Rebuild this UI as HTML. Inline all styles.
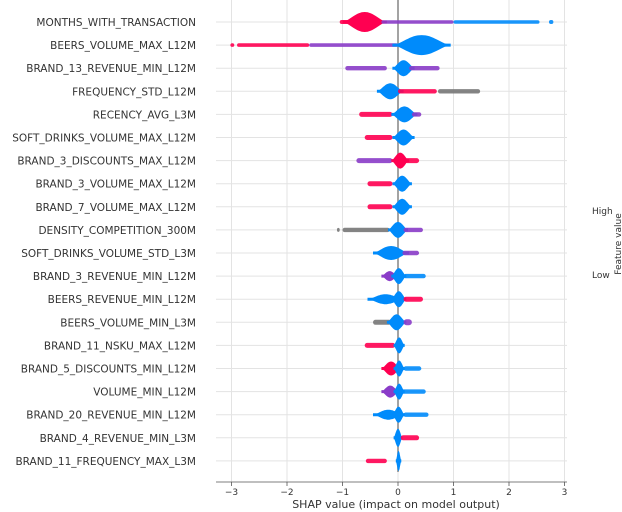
<!DOCTYPE html>
<html><head><meta charset="utf-8"><style>
html,body{margin:0;padding:0;background:#fff;width:622px;height:512px;overflow:hidden}
svg{display:block;font-family:"DejaVu Sans","Liberation Sans",sans-serif}
</style></head><body>
<svg id="chart" width="622" height="512" viewBox="0 0 622 512">
<g id="grid"></g>
<g id="labels"></g>
<g id="marks"></g>
<g id="axis"></g>
<text x="396" y="508" font-size="11" fill="#333" text-anchor="middle">SHAP value (impact on model output)</text>
<text x="592" y="214" font-size="9" fill="#333">High</text>
<text x="592" y="278" font-size="9" fill="#333">Low</text>
<text x="0" y="0" font-size="9" fill="#333" text-anchor="middle" transform="translate(621,244) rotate(-90)">Feature value</text>
</svg>
<script>
const features = ["MONTHS_WITH_TRANSACTION","BEERS_VOLUME_MAX_L12M","BRAND_13_REVENUE_MIN_L12M","FREQUENCY_STD_L12M","RECENCY_AVG_L3M","SOFT_DRINKS_VOLUME_MAX_L12M","BRAND_3_DISCOUNTS_MAX_L12M","BRAND_3_VOLUME_MAX_L12M","BRAND_7_VOLUME_MAX_L12M","DENSITY_COMPETITION_300M","SOFT_DRINKS_VOLUME_STD_L3M","BRAND_3_REVENUE_MIN_L12M","BEERS_REVENUE_MIN_L12M","BEERS_VOLUME_MIN_L3M","BRAND_11_NSKU_MAX_L12M","BRAND_5_DISCOUNTS_MIN_L12M","VOLUME_MIN_L12M","BRAND_20_REVENUE_MIN_L12M","BRAND_4_REVENUE_MIN_L3M","BRAND_11_FREQUENCY_MAX_L3M"];
const xTicks = [-3,-2,-1,0,1,2,3];
// [x0, x1, halfHeight, colorKey, shape] shape: b=blob, l=line
const segments = [
 [[-1.05,-0.85,2,"r","l"],[-1.0,-0.2,10,"r","b"],[-0.3,1.0,1.8,"p","l"],[1.0,2.55,1.8,"u","l"],[2.72,2.8,2,"u","l"]],
 [[-3.02,-2.95,1.8,"r","l"],[-2.9,-1.6,1.8,"r","l"],[-1.6,0.0,1.8,"p","l"],[-0.1,0.95,10,"u","b"]],
 [[-0.95,-0.2,2.2,"p","l"],[-0.1,0.3,8,"u","b"],[0.2,0.75,2.2,"p","l"]],
 [[-0.38,0.1,8,"u","b"],[0.0,0.7,2.2,"r","l"],[0.72,1.48,2.2,"g","l"]],
 [[-0.7,-0.1,2.5,"r","l"],[-0.12,0.35,8,"u","b"],[0.25,0.42,2.2,"p","l"]],
 [[-0.6,-0.1,2.5,"r","l"],[-0.1,0.3,8,"u","b"]],
 [[-0.75,-0.1,2.5,"p","l"],[-0.12,0.2,8,"r","b"],[0.12,0.38,2.5,"r","l"]],
 [[-0.55,-0.1,2.5,"r","l"],[-0.1,0.25,8,"u","b"]],
 [[-0.55,-0.1,2.5,"r","l"],[-0.1,0.25,8,"u","b"]],
 [[-1.1,-1.05,2,"g","l"],[-1.0,-0.15,2.2,"g","l"],[-0.18,0.18,8,"u","b"],[0.1,0.45,2.2,"p","l"]],
 [[-0.45,0.2,7,"u","b"],[0.08,0.38,2.2,"p","l"]],
 [[-0.3,0.0,5,"p","b"],[-0.12,0.15,8,"u","b"],[0.1,0.5,2.2,"u","l"]],
 [[-0.55,0.1,5,"u","b"],[-0.12,0.15,8,"u","b"],[0.1,0.45,2.5,"r","l"]],
 [[-0.45,-0.12,2.5,"g","l"],[-0.2,0.15,8,"u","b"],[0.1,0.25,3,"p","l"]],
 [[-0.6,-0.05,2.5,"r","l"],[-0.08,0.12,8,"u","b"]],
 [[-0.3,0.05,7,"r","b"],[-0.08,0.12,8,"u","b"],[0.1,0.42,2.2,"u","l"]],
 [[-0.3,0.02,6,"p","b"],[-0.08,0.12,8,"u","b"],[0.0,0.5,2.2,"u","l"]],
 [[-0.45,0.1,5,"u","b"],[-0.1,0.12,8,"u","b"],[0.1,0.55,2.2,"u","l"]],
 [[-0.08,0.08,9,"u","b"],[0.05,0.38,2.5,"r","l"]],
 [[-0.58,-0.2,2.2,"r","l"],[-0.04,0.06,10,"u","b"]]
];
const colors = {r:"#ff0051",u:"#008bfb",p:"#8a3cc8",g:"#777777"};
const NS="http://www.w3.org/2000/svg";
const x0px=398, ppu=55.5, rowTop=22, rowStep=23.1, plotLeft=216, plotRight=567, axisY=482;
const xs=v=>x0px+v*ppu;
const ys=i=>rowTop+i*rowStep;
function mk(t,a,p){const e=document.createElementNS(NS,t);for(const k in a)e.setAttribute(k,a[k]);p.appendChild(e);return e;}
const grid=document.getElementById('grid'),labels=document.getElementById('labels'),marks=document.getElementById('marks'),axis=document.getElementById('axis');
xTicks.forEach(t=>{
 const l=mk('line',{x1:xs(t),x2:xs(t),y1:0,y2:axisY,stroke:'#e3e3e3','stroke-width':1},grid);
 
 
 const tk=mk('line',{x1:xs(t),x2:xs(t),y1:axisY,y2:axisY+4,stroke:'#555','stroke-width':0.8},axis);
 
 
 const tx=mk('text',{x:xs(t),y:axisY+13,'font-size':9,fill:'#333','text-anchor':'middle'},axis);
 tx.textContent=(t<0?'\u2212'+(-t):String(t));
 
 
});
const al=mk('line',{x1:plotLeft,x2:plotRight,y1:axisY,y2:axisY,stroke:'#555','stroke-width':0.8},axis);


features.forEach((f,i)=>{
 const y=ys(i);
 const g=mk('line',{x1:plotLeft,x2:plotRight,y1:y,y2:y,stroke:'#e3e3e3','stroke-width':1},grid);
 
 
 const t=mk('text',{x:196,y:y+4,'font-size':10.5,fill:'#333','text-anchor':'end'},labels);
 t.textContent=f;
 
 
});
const zl=mk('line',{x1:xs(0),x2:xs(0),y1:0,y2:472,stroke:'#999','stroke-width':1.8},grid);


function blobPath(a,b,y,h){
 const n=30, cx=(a+b)/2, rx=(b-a)/2;
 const top=[],bot=[];
 for(let k=0;k<=n;k++){
  const t=-1+2*k/n;
  const hh=Math.max(1.5,h*Math.pow(1-t*t,1.8));
  top.push((cx+t*rx).toFixed(1)+','+(y-hh).toFixed(1));
  bot.unshift((cx+t*rx).toFixed(1)+','+(y+hh).toFixed(1));
 }
 return 'M'+top.join(' L')+' L'+bot.join(' L')+' Z';
}
segments.forEach((segs,i)=>{
 const y=ys(i);
 segs.forEach(s=>{
  const a=xs(s[0]),b=xs(s[1]),h=s[2],c=colors[s[3]];
  let e;
  if(s[4]==='b'){
   e=mk('path',{d:blobPath(a,b,y,h),fill:c},marks);
  } else {
   e=mk('rect',{x:a,y:y-h,width:Math.max(b-a,2),height:2*h,rx:h,fill:c,opacity:0.9},marks);
  }
  
  
 });
});
</script>
</body></html>
